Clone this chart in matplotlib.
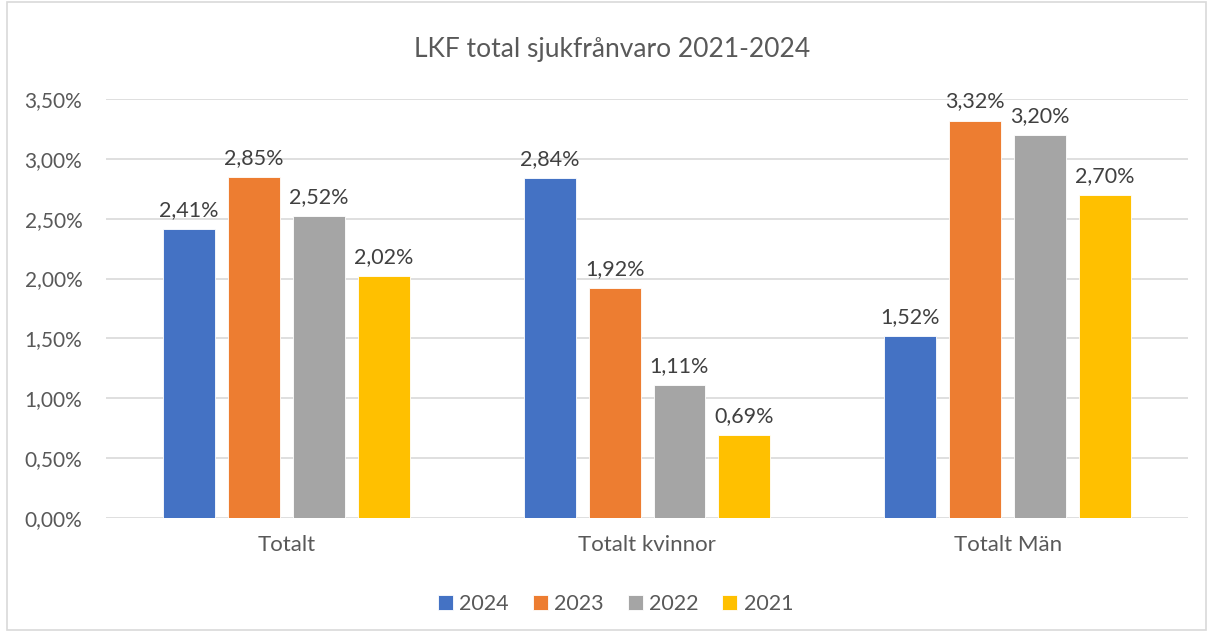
import matplotlib.pyplot as plt
from matplotlib.patches import Rectangle
import numpy as np

plt.rcParams['font.family'] = ['Lato', 'DejaVu Sans']

categories = ['Totalt', 'Totalt kvinnor', 'Totalt Män']
years = ['2024', '2023', '2022', '2021']
values = {
    '2024': [2.41, 2.84, 1.52],
    '2023': [2.85, 1.92, 3.32],
    '2022': [2.52, 1.11, 3.20],
    '2021': [2.02, 0.69, 2.70],
}
colors = ['#4472C4', '#ED7D31', '#A5A5A5', '#FFC000']
yticks = [0, 0.5, 1.0, 1.5, 2.0, 2.5, 3.0, 3.5]

def pct(v):
    return f'{v:.2f}%'.replace('.', ',')

fig = plt.figure(figsize=(12.13, 6.32), dpi=100)
ax = fig.add_axes([0.0874, 0.1804, 0.892, 0.6630])

# border around the chart area
fig.patches.append(Rectangle((0.006, 0.003), 0.988, 0.994, transform=fig.transFigure,
                             fill=False, edgecolor='#D9D9D9', linewidth=1.2))

x = np.arange(len(categories))
step = 0.18
width = 0.144
for i, (year, col) in enumerate(zip(years, colors)):
    pos = x + (i - 1.5) * step
    bars = ax.bar(pos, values[year], width, color=col, edgecolor='white',
                  linewidth=0.6, label=year, zorder=3)
    for b, v in zip(bars, values[year]):
        ax.text(b.get_x() + b.get_width() / 2, v + 0.075, pct(v), ha='center',
                va='bottom', fontsize=15.5, color='#404040')

ax.set_xlim(-0.5, 2.5)
ax.set_ylim(0, 3.5)
ax.set_yticks(yticks)
ax.set_yticklabels([pct(t) for t in yticks], fontsize=15, color='#595959')
ax.set_xticks(x)
ax.set_xticklabels(categories, fontsize=16, color='#595959')
ax.tick_params(length=0)
ax.tick_params(axis='y', pad=17)
ax.tick_params(axis='x', pad=12)
ax.grid(axis='y', color='#D9D9D9', linewidth=1.2, zorder=0)
for s in ax.spines.values():
    s.set_visible(False)

fig.text(0.505, 0.922, 'LKF total sjukfrånvaro 2021-2024', ha='center', va='center',
         fontsize=19, color='#595959')

ax.legend(loc='center', bbox_to_anchor=(0.471, -0.205), ncol=4, frameon=False,
          fontsize=15.5, handlelength=0.7, handleheight=0.7, handletextpad=0.3,
          columnspacing=1.1, labelcolor='#595959')

fig.savefig('out.png', dpi=100)
